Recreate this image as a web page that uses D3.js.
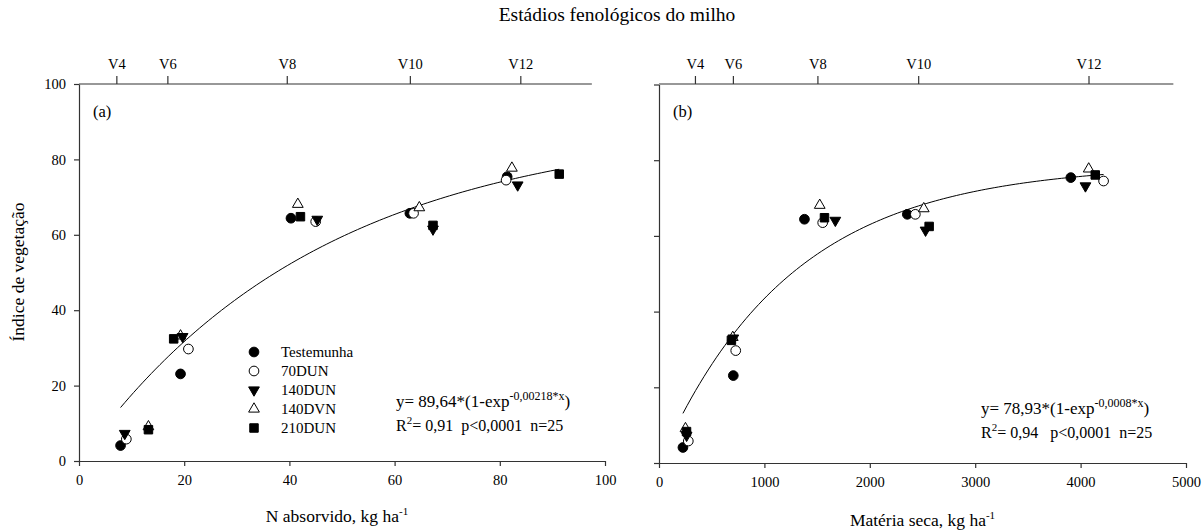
<!DOCTYPE html>
<html>
<head>
<meta charset="utf-8">
<script src="https://cdn.jsdelivr.net/npm/d3@7"></script>
<style>
body { margin: 0; background: #fff; }
text { font-family: "Liberation Serif", "Times New Roman", serif; fill: #000; }
</style>
</head>
<body>
<div id="viz"></div>
<script>
// data
const treatments = ['Testemunha', '70DUN', '140DUN', '140DVN', '210DUN'];
const stageLabels = ['V4', 'V6', 'V8', 'V10', 'V12'];
const stageN = [7.1, 16.8, 39.5, 62.9, 83.9];
const stageMS = [341, 701, 1503, 2459, 4075];
const nTicks = [0, 20, 40, 60, 80, 100];
const msTicks = [0, 1000, 2000, 3000, 4000, 5000];
const ivTicks = [0, 20, 40, 60, 80, 100];

// N absorvido (kg/ha) per treatment, one value per stage
const nTestemunha = [7.9, 19.3, 40.3, 62.9, 81.4];
const n70DUN = [9.0, 20.8, 45.0, 63.6, 81.2];
const n140DUN = [8.7, 19.7, 45.3, 67.3, 83.4];
const n140DVN = [13.2, 19.3, 41.6, 64.7, 82.3];
const n210DUN = [13.2, 18.0, 42.1, 67.3, 91.3];

// materia seca (kg/ha)
const msTestemunha = [227, 705, 1380, 2356, 3907];
const ms70DUN = [278, 728, 1553, 2432, 4218];
const ms140DUN = [262, 705, 1673, 2529, 4046];
const ms140DVN = [251, 700, 1525, 2512, 4077];
const ms210DUN = [261, 687, 1570, 2563, 4139];

// indice de vegetacao
const ivTestemunha = [4.1, 23.1, 64.4, 65.7, 75.4];
const iv70DUN = [5.8, 29.7, 63.5, 65.7, 74.5];
const iv140DUN = [7.3, 33.0, 64.1, 61.5, 73.2];
const iv140DVN = [9.1, 33.2, 68.1, 67.2, 77.7];
const iv210DUN = [8.3, 32.4, 64.8, 62.5, 76.1];

// fitted model y = a*(1-exp(-b*x))
const fitN = {a: 89.64, b: 0.0218};
const fitMS = {a: 78.93, b: 0.0008};

const W = 1202, H = 532;
const svg = d3.select('#viz').append('svg')
    .attr('width', W).attr('height', H)
    .style('background', '#fff');

const axisColor = '#333';

const symbolDefs = [
  {type: d3.symbolCircle, size: 74, fill: '#000', rot: 0},
  {type: d3.symbolCircle, size: 74, fill: '#fff', rot: 0},
  {type: d3.symbolTriangle, size: 50, fill: '#000', rot: 180},
  {type: d3.symbolTriangle, size: 50, fill: '#fff', rot: 0},
  {type: d3.symbolSquare, size: 72, fill: '#000', rot: 0}
];
// draw order so overlaps look like the original
const drawOrder = [0, 1, 3, 2, 4];

function marker(g, i, x, y) {
  const s = symbolDefs[i];
  g.append('path')
    .attr('d', d3.symbol().type(s.type).size(s.size)())
    .attr('transform', `translate(${x},${y}) rotate(${s.rot})`)
    .attr('fill', s.fill)
    .attr('stroke', '#000')
    .attr('stroke-width', 1);
}

function styleAxis(g, fs) {
  g.selectAll('.domain').attr('stroke', axisColor).attr('stroke-width', 1.2);
  g.selectAll('.tick line').attr('stroke', axisColor).attr('stroke-width', 1.2);
  g.selectAll('text').attr('font-family', '"Liberation Serif", "Times New Roman", serif')
    .attr('font-size', fs).attr('fill', '#000');
}

function panel(p) {
  const x = p.x, y = p.y;
  const g = svg.append('g');

  // left axis
  const ya = g.append('g')
      .attr('transform', `translate(${x.range()[0]},0)`)
      .call(d3.axisLeft(y).tickValues(ivTicks).tickSize(5).tickSizeOuter(0)
        .tickPadding(8).tickFormat(p.yLabels ? d3.format('d') : ''));
  styleAxis(ya, 14.5);

  // bottom axis
  const xa = g.append('g')
      .attr('transform', `translate(0,${y(0)})`)
      .call(d3.axisBottom(x).tickValues(p.xTicks).tickSize(5).tickSizeOuter(0)
        .tickPadding(9).tickFormat(d3.format('d')));
  styleAxis(xa, 14.5);

  // top axis: growth stages
  const ta = g.append('g')
      .attr('transform', `translate(0,${p.topY})`)
      .call(d3.axisTop(x).tickValues(p.stages).tickSize(8).tickPadding(7)
        .tickFormat((d, i) => stageLabels[i]));
  ta.select('.domain').remove();
  ta.append('line')
    .attr('x1', x.range()[0]).attr('x2', x(p.topEnd))
    .attr('y1', 0).attr('y2', 0)
    .attr('stroke', axisColor).attr('stroke-width', 1.2);
  styleAxis(ta, 14.5);

  // fitted curve
  const lo = d3.min(p.xs.flat()), hi = d3.max(p.xs.flat());
  const xsCurve = d3.range(0, 101).map(i => lo + (hi - lo) * i / 100);
  g.append('path')
    .datum(xsCurve)
    .attr('d', d3.line().x(d => x(d)).y(d => y(p.fit.a * (1 - Math.exp(-p.fit.b * d)))))
    .attr('fill', 'none').attr('stroke', '#000').attr('stroke-width', 1);

  // points
  drawOrder.forEach(t => {
    p.xs[t].forEach((v, i) => marker(g, t, x(v), y(p.ys[t][i])));
  });

  // panel letter
  g.append('text').attr('x', x.range()[0] + 14).attr('y', 117)
    .attr('font-size', 16.5).text(p.letter);

  // equation
  const eq = g.append('text').attr('x', p.eqX).attr('y', p.eqY).attr('font-size', 17);
  eq.append('tspan').text(p.eq1);
  eq.append('tspan').attr('font-size', 12).attr('dy', -7).text(p.eqSup);
  eq.append('tspan').attr('dy', 7).text(')');
  const r2 = g.append('text').attr('x', p.eqX).attr('y', p.eqY + 24).attr('font-size', 16)
    .attr('xml:space', 'preserve');
  r2.append('tspan').text('R');
  r2.append('tspan').attr('font-size', 11).attr('dy', -7).text('2');
  r2.append('tspan').attr('dy', 7).text(p.eq2);

  // x title
  const xt = g.append('text')
      .attr('x', (x.range()[0] + x.range()[1]) / 2 + p.titleShift)
      .attr('y', p.titleY).attr('text-anchor', 'middle').attr('font-size', 17.5);
  xt.append('tspan').text(p.xTitle);
  xt.append('tspan').attr('font-size', 11).attr('dy', -7).text('-1');
}

panel({
  x: d3.scaleLinear().domain([0, 100]).range([79, 605]),
  y: d3.scaleLinear().domain([0, 100]).range([461, 84]),
  topY: 84, topEnd: 97.5,
  xTicks: nTicks, stages: stageN, yLabels: true,
  xs: [nTestemunha, n70DUN, n140DUN, n140DVN, n210DUN],
  ys: [ivTestemunha, iv70DUN, iv140DUN, iv140DVN, iv210DUN],
  fit: fitN, letter: '(a)',
  eqX: 396, eqY: 407,
  eq1: 'y= 89,64*(1-exp', eqSup: '-0,00218*x', eq2: '= 0,91  p<0,0001  n=25',
  xTitle: 'N absorvido, kg ha', titleShift: -5, titleY: 522
});

panel({
  x: d3.scaleLinear().domain([0, 5000]).range([659, 1186]),
  y: d3.scaleLinear().domain([0, 100]).range([463, 84.5]),
  topY: 84, topEnd: 4880,
  xTicks: msTicks, stages: stageMS, yLabels: false,
  xs: [msTestemunha, ms70DUN, ms140DUN, ms140DVN, ms210DUN],
  ys: [ivTestemunha, iv70DUN, iv140DUN, iv140DVN, iv210DUN],
  fit: fitMS, letter: '(b)',
  eqX: 981, eqY: 414,
  eq1: 'y= 78,93*(1-exp', eqSup: '-0,0008*x', eq2: '= 0,94   p<0,0001  n=25',
  xTitle: 'Matéria seca, kg ha', titleShift: 0, titleY: 526
});

// legend (inside panel a)
const legend = svg.append('g');
treatments.forEach((t, i) => {
  const cy = 352 + i * 19;
  marker(legend, i, 254, cy);
  legend.append('text').attr('x', 281).attr('y', cy + 5)
    .attr('font-size', 15).text(t);
});

// y title and chart title
svg.append('text')
  .attr('transform', 'translate(24,272) rotate(-90)')
  .attr('text-anchor', 'middle').attr('font-size', 17.5)
  .text('Índice de vegetação');

svg.append('text')
  .attr('x', 617).attr('y', 21)
  .attr('text-anchor', 'middle').attr('font-size', 19.5)
  .text('Estádios fenológicos do milho');
</script>
</body>
</html>
